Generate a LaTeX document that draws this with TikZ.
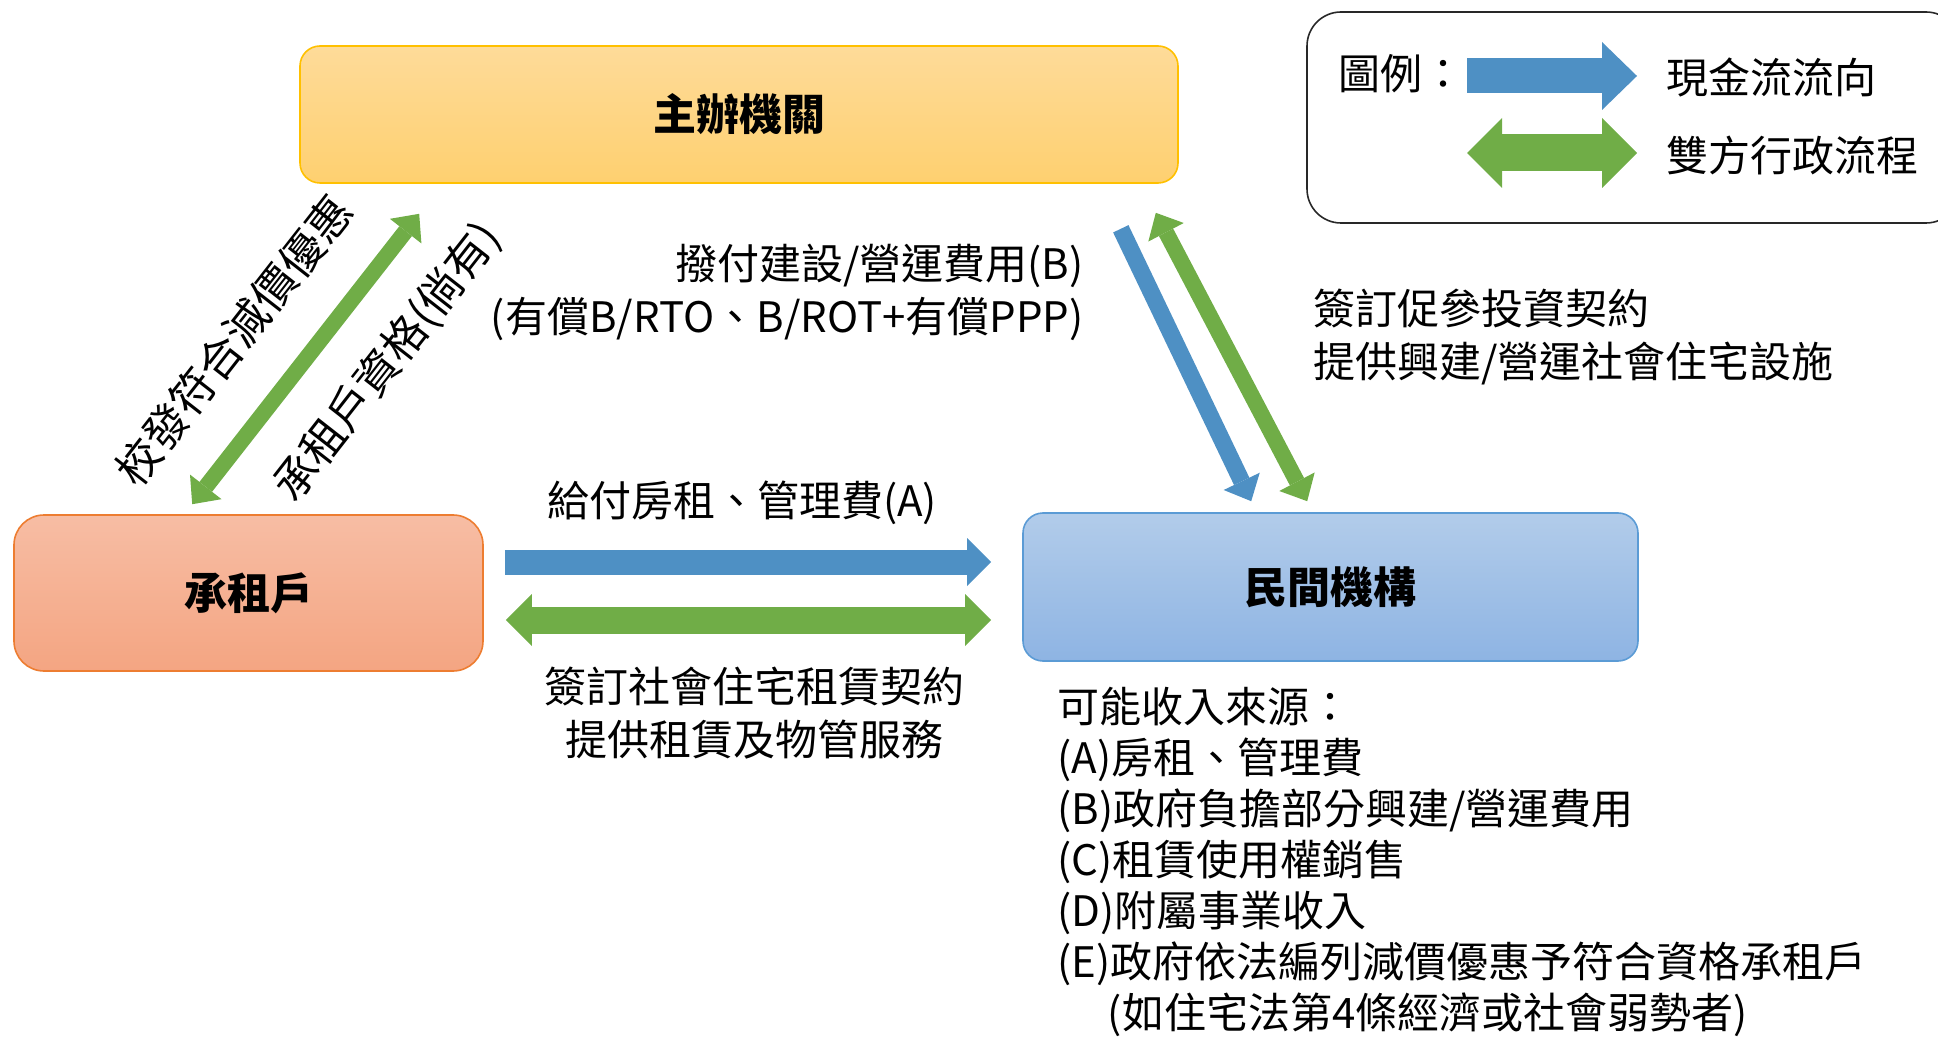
\documentclass[tikz,border=0pt]{standalone}
\usepackage{fontspec}
\setmainfont{Noto Sans CJK TC}
\usetikzlibrary{arrows.meta}
\definecolor{cashblue}{RGB}{78,144,196}
\definecolor{dealgreen}{RGB}{112,173,71}
\definecolor{govtop}{RGB}{254,219,153}
\definecolor{govbot}{RGB}{254,208,112}
\definecolor{govline}{RGB}{255,192,0}
\definecolor{tentop}{RGB}{247,189,164}
\definecolor{tenbot}{RGB}{244,165,130}
\definecolor{tenline}{RGB}{237,125,49}
\definecolor{ngotop}{RGB}{178,204,234}
\definecolor{ngobot}{RGB}{142,180,227}
\definecolor{ngoline}{RGB}{91,155,213}
\definecolor{legline}{RGB}{40,40,40}

\begin{document}
\begin{tikzpicture}
  [x=0.5pt,y=-0.5pt,
   every node/.style={inner sep=0pt,font=\fontsize{21pt}{26.5pt}\selectfont},
   party/.style={rounded corners=10pt,line width=0.8pt,font=\fontsize{21.5pt}{24pt}\selectfont\bfseries},
   cash/.style n args={3}{draw=cashblue,line width=#1,-{Triangle[width=#2,length=#3,line width=0pt]}},
   deal/.style n args={3}{draw=dealgreen,line width=#1,{Triangle[width=#2,length=#3,line width=0pt]}-{Triangle[width=#2,length=#3,line width=0pt]}}]
  \clip (0,0) rectangle (1938,1037);

  \node[party,draw=govline,top color=govtop,bottom color=govbot,minimum width=439pt,minimum height=68.5pt] (gov) at (739,114.5) {主辦機關};
  \node[party,draw=tenline,top color=tentop,bottom color=tenbot,minimum width=234.5pt,minimum height=78pt,rounded corners=15pt] (tenant) at (248.5,593) {承租戶};
  \node[party,draw=ngoline,top color=ngotop,bottom color=ngobot,minimum width=307.5pt,minimum height=74pt] (ngo) at (1330.5,587) {民間機構};

  \node[draw=legline,line width=0.8pt,rounded corners=17pt,minimum width=326.5pt,minimum height=105.5pt] (legend) at (1633.5,117.5) {};
  \node[anchor=west] (legtitle) at (1338,74) {圖例：};
  \coordinate (cashA) at (1467,76);
  \coordinate (cashB) at (1637,76);
  \coordinate (dealA) at (1467,153);
  \coordinate (dealB) at (1637,153);
  \draw[cash={17.5pt}{34pt}{17.5pt}] (cashA) -- (cashB);
  \draw[deal={18.5pt}{35pt}{17.5pt}] (dealA) -- (dealB);
  \node[anchor=west] (legcash) at (1666,77) {現金流流向};
  \node[anchor=west] (legdeal) at (1666,155) {雙方行政流程};

  \draw[deal={8pt}{20pt}{11pt}] ([xshift=89.5pt,yshift=5pt]tenant.north west) --
    node[pos=0.42,sloped,above=20pt,font=\fontsize{22pt}{22pt}\selectfont] (issue) {校發符合減價優惠}
    node[pos=0.63,sloped,below=18pt,font=\fontsize{22pt}{22pt}\selectfont] (qualify) {承租戶資格(倘有)}
    ([xshift=60pt,yshift=-15pt]gov.south west);

  \draw[cash={8.5pt}{20pt}{11pt}] ([xshift=-29pt,yshift=-22.5pt]gov.south east) -- ([xshift=114.5pt,yshift=5.5pt]ngo.north west);
  \draw[deal={8pt}{20pt}{11pt}] ([xshift=-11.5pt,yshift=-14.5pt]gov.south east) -- ([xshift=142.5pt,yshift=5.5pt]ngo.north west);

  \draw[cash={12.5pt}{24pt}{12pt}] ([xshift=10.5pt,yshift=15.5pt]tenant.east) -- ([xshift=-15.5pt,yshift=12.5pt]ngo.west);
  \draw[deal={13.5pt}{26pt}{13pt}] ([xshift=11pt,yshift=-13.5pt]tenant.east) -- ([xshift=-15.5pt,yshift=-16.5pt]ngo.west);

  \node[anchor=east,align=right] (payB) at (1084,292.5) {撥付建設/營運費用(B)\\(有償B/RTO、B/ROT+有償PPP)};
  \node[anchor=west,align=left] (invest) at (1313,336.5) {簽訂促參投資契約\\提供興建/營運社會住宅設施};
  \node (payA) at (742,503) {給付房租、管理費(A)};
  \node[align=center] (lease) at (754,713.5) {簽訂社會住宅租賃契約\\提供租賃及物管服務};
  \node[anchor=north west,align=left,font=\fontsize{21pt}{25.5pt}\selectfont] (income) at (1057,687)
    {可能收入來源：\\(A)房租、管理費\\(B)政府負擔部分興建/營運費用\\(C)租賃使用權銷售\\(D)附屬事業收入\\(E)政府依法編列減價優惠予符合資格承租戶\\\hspace*{1.2em}(如住宅法第4條經濟或社會弱勢者)};
\end{tikzpicture}
\end{document}
